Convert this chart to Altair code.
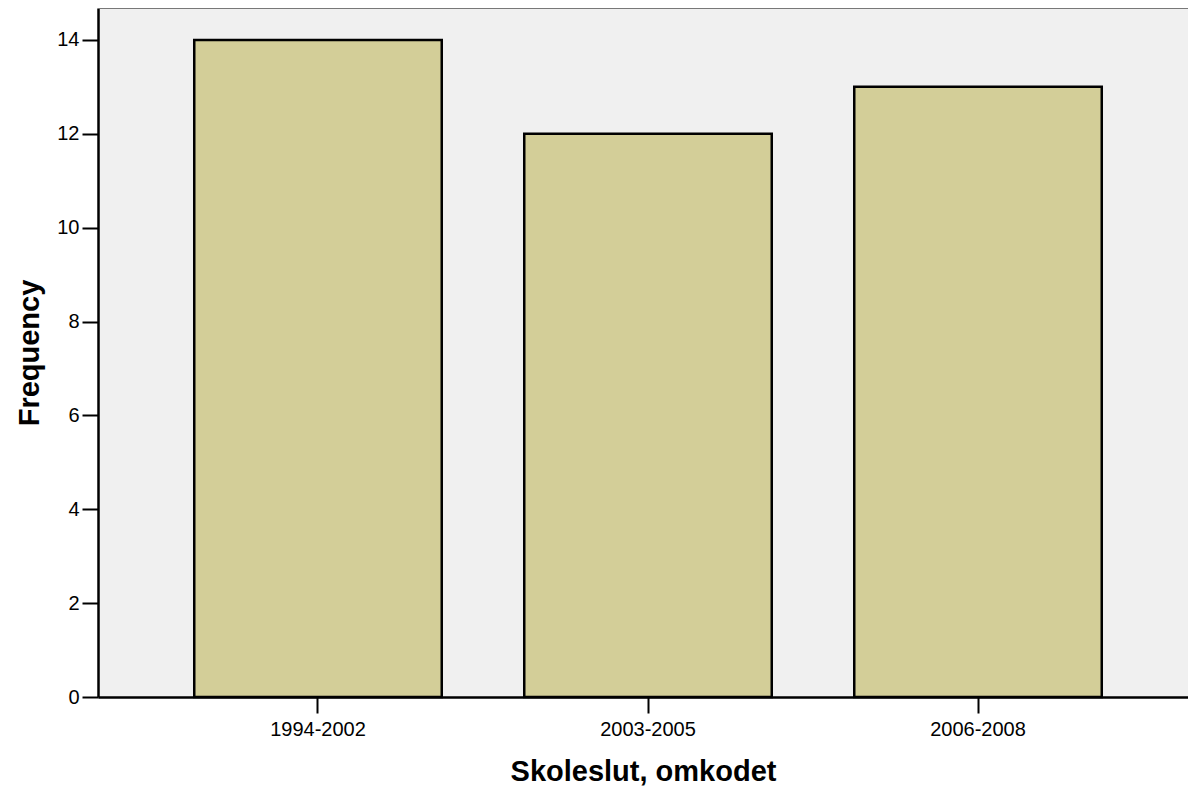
import altair as alt
import pandas as pd

categories = ["1994-2002", "2003-2005", "2006-2008"]
frequencies = [14, 12, 13]

df = pd.DataFrame({"cat": categories, "freq": frequencies})

W = 1090
H = 689

bars = alt.Chart(df).mark_bar(
    color="#d3ce98", stroke="#000000", strokeWidth=2.5
).encode(
    x=alt.X(
        "cat:N",
        sort=categories,
        title="Skoleslut, omkodet",
        scale=alt.Scale(paddingInner=0.25, paddingOuter=0.2765, align=0.5274),
        axis=alt.Axis(
            labelAngle=0,
            labelFontSize=20,
            labelFont="Liberation Sans",
            labelColor="#000000",
            labelPadding=6,
            tickSize=16,
            tickWidth=2,
            tickColor="#000000",
            domainColor="#000000",
            domainWidth=2.5,
            titleFont="Liberation Sans",
            titleFontSize=29,
            titleFontWeight="bold",
            titleColor="#000000",
            titlePadding=18,
        ),
    ),
    y=alt.Y(
        "freq:Q",
        title="Frequency",
        scale=alt.Scale(domain=[0, 14.68], nice=False, zero=True),
        axis=alt.Axis(
            values=[0, 2, 4, 6, 8, 10, 12, 14],
            grid=False,
            labelFontSize=20,
            labelFont="Liberation Sans",
            labelColor="#000000",
            labelPadding=3,
            tickSize=16,
            tickWidth=2,
            tickColor="#000000",
            domainColor="#000000",
            domainWidth=2.5,
            titleFont="Liberation Sans",
            titleFontSize=29,
            titleFontWeight="bold",
            titleColor="#000000",
            titlePadding=12,
        ),
    ),
)

top_line = alt.Chart(df).mark_rule(color="#777777", strokeWidth=1.5).encode(
    y=alt.value(0), x=alt.value(0), x2=alt.value(W)
)

chart = alt.layer(bars, top_line).properties(
    width=W,
    height=H,
    autosize=alt.AutoSizeParams(type="none"),
    padding={"left": 90, "top": 0, "right": 0, "bottom": 90},
    background="#ffffff",
).configure_view(
    fill="#f0f0f0", stroke=None
)

chart.save("out.html", embed_options={"renderer": "svg", "actions": False})
